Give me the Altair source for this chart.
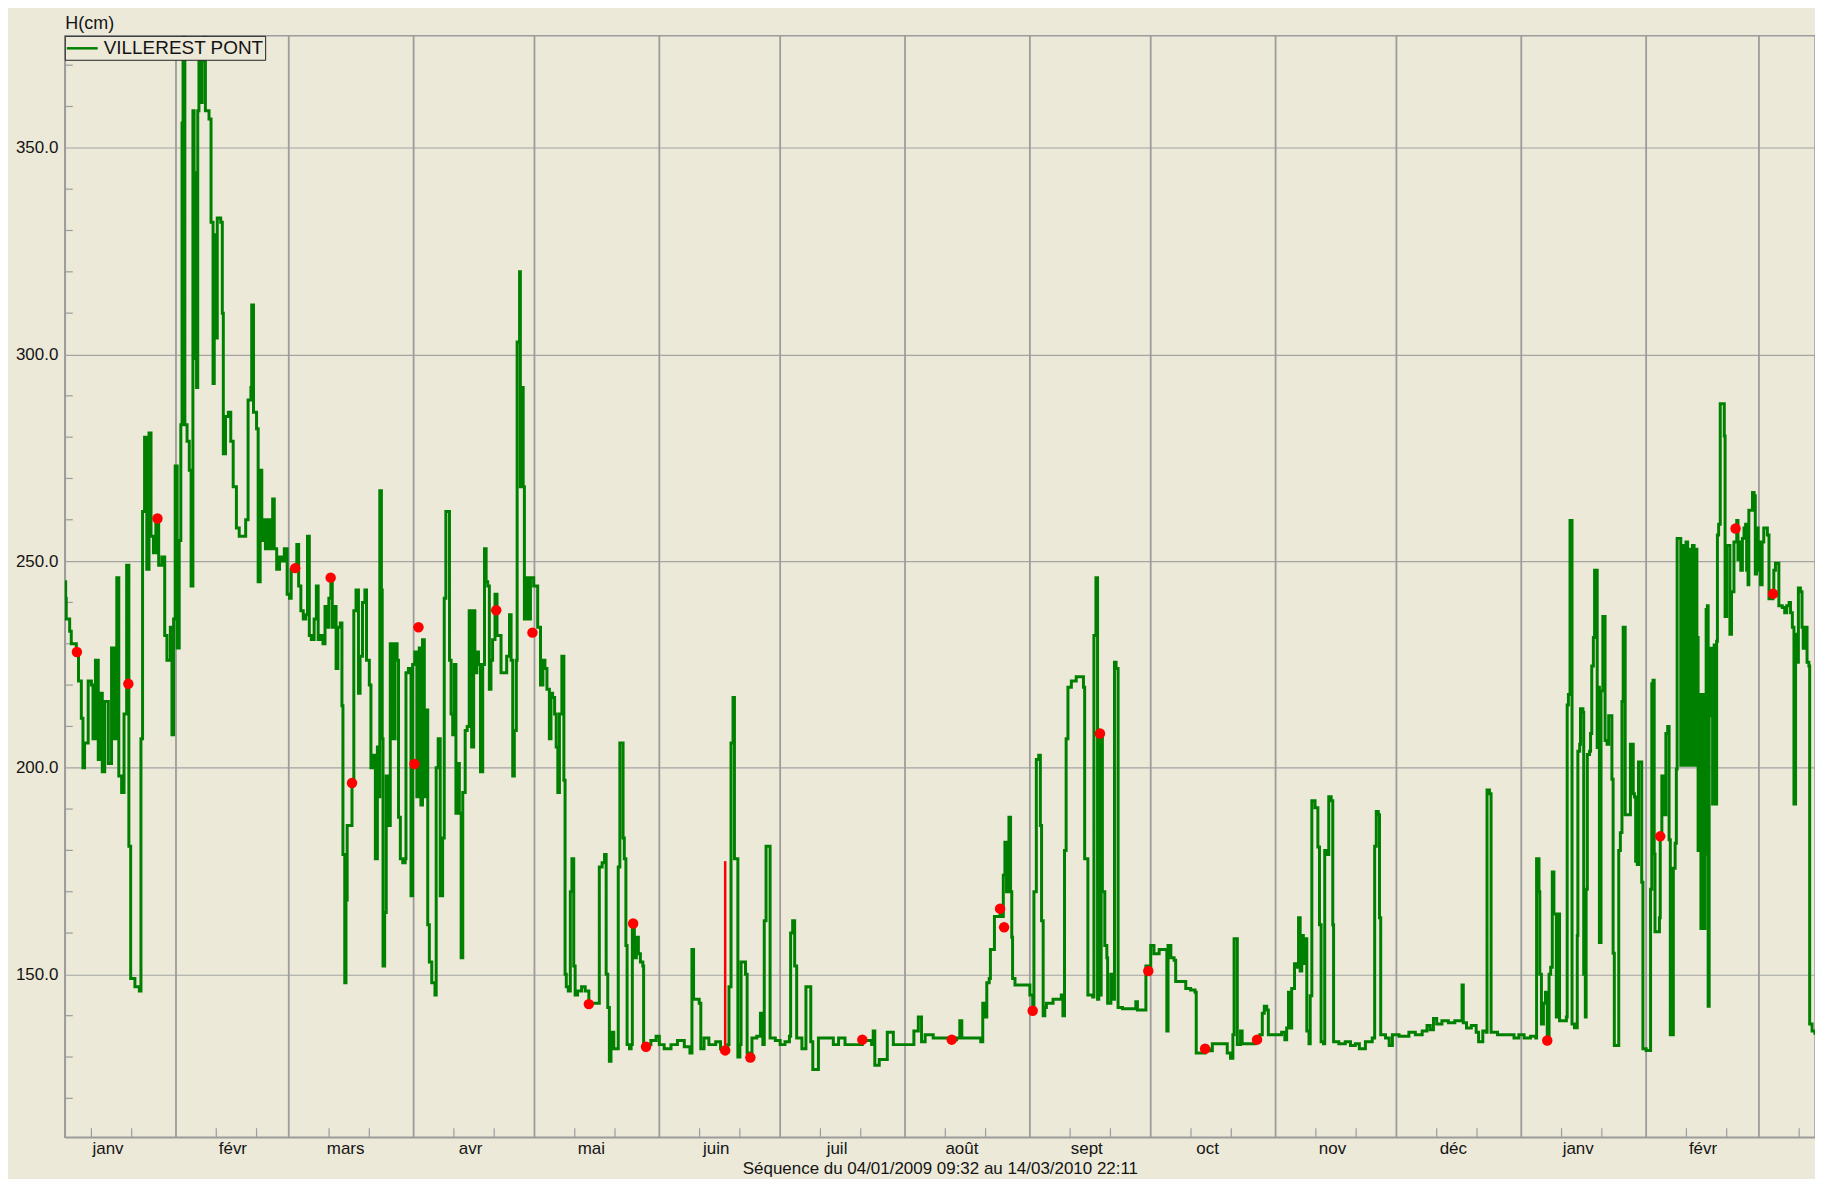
import altair as alt
import pandas as pd

# ---------------- data ----------------
# (days since 2009-01-01 00:00, level H in cm)
SEG_JAN_MAR09 = [(3.4,245),(3.6,241),(3.75,236),(4.6,233),(5.0,230),(6.25,228),(6.8,221),(7.5,212),(7.9,200),(8.3,206),(9.2,221),(10.0,220),(10.4,207),(11.0,226),(11.7,202),(12.1,218),(12.7,199),(13.3,216),(14.2,201),(15.0,229),(15.7,207),(16.3,246),(16.8,198),(17.5,194),(18.1,213),(18.75,249),(19.3,181),(19.75,149),(20.8,147),(21.9,146),(22.3,207),(22.7,262),(23.2,280),(23.75,248),(24.3,281),(24.8,256),(25.4,252),(26.0,259),(26.7,249),(27.5,251),(28.2,232),(28.75,226),(29.6,234),(30.0,208),(30.4,236),(30.8,273),(31.3,229),(31.8,255),(32.2,283),(32.5,356),(32.75,385),(33.2,283),(33.75,279),(34.3,272),(34.75,244),(35.2,359),(35.5,299),(35.8,344),(36.1,292),(36.4,359),(36.7,375),(37.1,361),(37.5,371),(38.0,385),(38.3,359),(39.2,357),(39.7,332),(40.2,293),(40.5,329),(40.8,304),(41.25,333),(42.1,332),(42.5,310),(42.75,276),(43.3,285),(44.0,286),(44.6,279),(45.2,268),(46.0,258),(46.7,256),(47.5,256),(48.3,260),(48.9,289),(49.6,292),(49.8,312),(50.25,286),(51.0,282),(51.4,245),(51.9,272),(52.3,255),(52.7,260),(53.2,253),(53.7,260),(54.3,253),(55.0,265),(55.4,253),(56.0,248),(56.7,251),(57.3,250),(57.9,253),(58.6,242),(59.2,241),(59.6,248),(60.6,248),(61.0,254),(61.45,244),(62.0,238),(62.6,236),(63.2,237),(63.65,256),(64.1,232),(64.6,231),(65.3,236),(65.85,244),(66.3,231),(66.9,232),(67.5,230),(68.0,239),(68.5,234),(68.95,241),(69.45,246),(69.8,234),(70.4,239),(70.75,224),(71.2,234),(71.8,235),(72.2,215),(72.45,179),(72.9,148),(73.2,168),(73.5,186),(74.7,196),(75.15,238),(75.7,243)]

SEG_MAR_MAY09 = [(76.3,218),(76.7,227),(77.3,240),(77.9,243),(78.3,226),(79.0,220),(79.4,200),(80.0,203),(80.5,178),(81.0,205),(81.35,193),(81.6,267),(82.0,243),(82.2,207),(82.4,152),(82.8,165),(83.2,198),(83.8,186),(84.2,230),(84.9,207),(85.4,230),(85.9,226),(86.25,188),(86.7,178),(87.3,177),(87.9,178),(88.1,223),(88.7,224),(89.35,169),(89.75,225),(90.3,228),(90.8,193),(91.4,229),(91.8,191),(92.2,231),(92.65,193),(93.1,214),(93.5,162),(93.9,153),(94.5,148),(95.3,145),(95.6,200),(96.1,207),(96.6,169),(97.2,183),(97.6,241),(98.0,262),(98.6,262),(98.9,226),(99.3,213),(99.7,208),(100.1,225),(100.5,189),(100.9,201),(101.35,189),(101.8,154),(102.2,194),(102.8,209),(103.3,210),(103.8,238),(104.4,205),(104.9,238),(105.2,223),(105.7,228),(106.1,225),(106.6,199),(107.15,225),(107.6,253),(108.0,245),(108.4,244),(108.8,219),(109.2,226),(109.6,231),(110.2,242),(110.7,232),(111.3,232),(111.7,223),(112.5,223),(113.1,227),(113.8,237),(114.2,226),(114.6,198),(115.0,209),(115.5,226),(115.7,303),(116.0,303),(116.3,320),(116.5,268),(116.85,292),(117.2,268),(117.5,236),(118.2,246),(118.5,236),(119.0,246),(119.8,244),(120.4,244),(120.8,234),(121.2,234),(121.5,220),(122.1,226),(122.6,224),(123.1,219),(123.7,207),(124.1,218),(124.5,217),(125.0,213),(125.4,205),(125.8,194),(126.2,213),(126.8,227),(127.3,197),(127.6,150),(127.9,147),(128.4,146),(128.9,170),(129.3,178),(129.75,152),(130.1,145),(130.7,146),(131.7,147),(132.6,146),(133.5,143),(134.5,143),(135.5,143),(136.1,176),(136.8,177),(137.4,179),(137.8,150),(138.2,142),(138.6,129),(139.0,136),(139.7,132),(140.5,132),(140.8,176),(141.2,206),(141.7,206),(142.0,183),(142.3,178),(142.7,157),(143.0,133),(143.6,132),(144.0,133),(144.3,162),(144.8,154),(145.3,159),(145.8,155),(146.3,153),(146.9,152),(147.1,133),(148.9,134),(150.2,135),(151.0,133)]

SEG_JUN_AUG09 = [(152.2,132),(153.9,133),(155.5,134),(157.2,132.5),(158.6,131),(159.1,156),(159.5,144),(160.9,143),(161.3,132),(162.1,134.6),(163.3,133),(165.0,133.7),(166.2,132),(167.35,131.6),(168.0,133),(168.3,147),(168.8,206),(169.3,217),(169.65,178),(170.1,178),(170.5,130),(171.0,133),(171.3,153),(171.8,153),(172.4,150),(172.8,131),(173.6,130),(174.0,134.6),(175.2,135),(176.1,140.6),(176.7,133),(177.05,163),(177.5,181),(178.1,181),(178.5,134.6),(179.8,134),(181.0,133),(182.2,133.7),(183.3,135),(183.6,160),(184.1,163),(184.6,152),(185.1,134.6),(186.4,132),(187.4,147),(188.3,147),(188.6,133.7),(189.1,127),(190.1,127),(190.5,134.6),(192.6,134.6),(194.2,133),(195.5,134.6),(197.1,133),(201.4,134),(203.7,133),(204.1,136.3),(204.5,128),(205.6,129.4),(207.3,129.4),(207.6,136),(208.3,136),(209.1,133),(210.3,133),(211.6,133),(213.2,133),(214.2,136.3),(215.3,139.7),(216.1,133.7),(217.0,135.4),(219.0,134.6),(223.6,134.2)]

SEG_AUG_OCT09 = [(224.8,134.6),(225.6,138.8),(226.1,134.6),(228.1,134.6),(230.8,133.7),(231.3,143),(231.8,139.7),(232.3,148),(232.9,149),(233.2,156),(233.9,156),(234.2,164),(235.6,166),(236.0,164),(236.4,174),(236.8,182),(237.2,170),(237.8,188),(238.2,170),(238.5,159),(238.7,149),(239.3,147.4),(242.6,147.4),(243.0,145),(243.7,141),(244.0,170),(244.6,202),(245.2,203),(245.6,186),(245.9,163),(246.3,140),(246.7,142),(247.1,143),(248.75,144),(250.8,145),(251.2,140),(251.6,180),(252.0,207),(252.45,219.5),(253.3,221),(254.5,222),(255.7,222),(256.3,219.5),(256.6,178),(257.4,145),(258.6,144.5),(258.9,232),(259.4,246),(259.8,144),(260.1,209),(260.4,145),(260.7,208),(261.0,170),(261.2,170),(261.6,157),(262.1,154),(262.3,143),(263.1,150),(263.5,144),(264.0,225.5),(264.4,224),(264.9,142),(266.0,141.7),(267.65,141.7),(269.3,143.4),(269.7,141.4),(271.3,141.4),(271.8,152),(272.4,151),(273.0,157),(273.8,155),(275.1,156),(276.7,156),(277.0,136.3),(277.3,157),(278.0,154),(278.8,153.4),(279.2,148.3),(280.0,148.3),(281.7,146.6),(282.9,146.2),(284.0,145.7),(284.3,131),(286.5,132),(287.5,131.5),(288.3,133.2),(290.8,133.2),(292.0,131),(292.8,129.7),(293.4,135.4),(293.7,158.6),(294.2,158.6),(294.5,133),(295.3,136.3),(295.7,133.2),(297.4,133.2)]

SEG_NOV09_JAN10 = [(298.9,134.6),(300.1,135.4),(300.7,140.6),(301.2,142.3),(301.8,141.4),(302.2,135.4),(303.8,135.4),(305.5,136),(306.3,134.2),(306.75,137),(307.2,145.7),(307.6,137),(308.0,146.6),(308.7,152.6),(309.25,151.7),(309.7,163.7),(310.1,150.8),(310.5,159.4),(310.9,152.6),(311.3,158.6),(311.75,136.3),(312.3,133.2),(312.6,144.8),(313.0,192),(313.8,190.3),(314.5,180.8),(314.9,162),(315.3,133.7),(315.9,133.2),(316.2,180),(316.75,179),(317.2,193),(317.8,192),(318.2,162),(318.4,133.7),(319.7,133.2),(321.3,133.7),(322.6,132.8),(323.8,133.2),(324.8,132),(326.3,133.7),(328.0,134.6),(328.6,181),(329.0,189.4),(329.5,188.6),(329.8,163.7),(330.1,135.4),(331.3,134.6),(332.2,132.8),(333.0,135.4),(334.65,135),(337.1,136),(338.7,135.4),(340.4,136.3),(341.6,137.6),(342.4,136.6),(343.2,139.3),(344.0,138),(345.3,138.8),(346.9,138.3),(348.5,138.8),(350.0,138.8),(350.3,147.4),(350.6,138.3),(351.4,137),(352.6,137.6),(353.8,136),(354.4,133.7),(355.45,136.3),(356.3,136),(356.5,194.6),(357.1,193.7),(357.5,136),(359.1,135.4),(361.6,135.4),(363.2,134.6),(364.4,135.4),(365.7,134.6),(367.3,135),(368.6,134.6),(368.8,178),(369.4,170),(369.6,150),(370.0,138),(370.5,143),(371.0,145.7),(371.45,134),(371.9,150),(372.3,151.7),(372.7,174.8),(373.1,164.6)]

SEG_JAN_MAR10 = [(373.7,139.7),(374.1,164.6),(374.5,138.8),(374.9,138.8),(376.2,139.7),(376.4,215.2),(376.7,217.7),(377.1,259.8),(377.4,259.8),(377.6,138),(378.2,137.1),(378.6,137.1),(378.9,159.4),(379.05,204),(379.5,205.7),(379.7,214.3),(380.3,213.4),(380.5,150),(380.9,139.7),(381.1,170.6),(381.4,203.2),(381.95,204),(382.2,208.3),(382.5,224.6),(382.9,231.5),(383.2,247.8),(383.6,247.8),(383.85,204.9),(384.2,219.5),(384.4,157.7),(384.8,218.6),(385.25,236.6),(385.7,236.6),(385.8,206.6),(386.3,205.7),(386.7,212.6),(387.2,212.6),(387.5,197.2),(387.8,155.1),(388.1,132.8),(389.0,132.8),(389.2,180),(389.6,184.3),(390.0,216),(390.3,234),(390.6,234),(390.8,188.6),(391.9,188.6),(392.1,205.7),(392.4,205.7),(392.8,193.7),(393.1,192.9),(393.4,177.4),(393.8,176.6),(394.1,201.4),(394.6,201.4),(394.9,172.3),(395.2,132),(396.0,131.6),(396.8,131.6),(397.1,170.6),(397.4,220.3),(397.7,221.2),(398.0,179.1),(398.2,160.3),(398.9,160.3),(399.3,163.7),(399.5,183.4),(399.9,198),(400.2,198),(400.5,188.6),(400.9,208.3),(401.35,210),(401.7,182.6),(402.0,135.4),(402.5,135.4),(402.75,175.7),(403.2,181.7),(403.5,199.7),(403.7,255.5),(404.2,255.5),(404.6,200.6),(405.1,253.8),(405.5,200.6),(405.9,254.6),(406.3,200.6),(406.7,252.9),(407.1,200.6),(407.5,253.8),(407.9,200.6),(408.4,252.9),(408.6,231.5),(408.9,180),(409.3,217.7),(409.6,161.1),(409.9,217.7),(410.25,161.1),(410.6,179.1),(410.9,238.3),(411.2,239.2),(411.4,142.3),(411.65,212.6),(412.1,228.9),(412.5,191.2),(412.9,229.7),(413.2,191.2),(413.5,230.6),(413.7,256.3),(414.0,258.9),(414.4,288.1),(414.9,288.1),(415.4,280.3),(415.6,236.6),(416.0,253.8),(416.6,253.8),(416.8,232.3),(417.2,242.6),(417.5,242.6),(417.8,254.6),(418.5,259.8),(418.8,250.3),(419.1,254.6),(419.5,247.8),(419.9,255.5),(420.3,258),(420.7,258.9),(420.95,247.8),(421.3,244.3),(421.5,262.3),(421.9,262.3),(422.4,266.6),(422.8,265.8),(423.1,246.9),(423.4,258),(423.8,247.8),(424.1,254.6),(424.4,244.3),(424.8,254.6),(425.2,258),(425.65,258),(426.1,256.3),(426.5,240.9),(427.5,242.1),(427.7,247.8),(428.1,249.5),(428.7,249.5),(428.95,239.2),(429.8,238.8),(430.4,237.5),(430.9,239.2),(431.5,240),(431.85,237.5),(432.3,234),(432.7,191.2),(433.1,232.3),(433.5,225.5),(433.8,243.5),(434.3,242.6),(434.7,234),(435.0,228.9),(435.3,234),(435.7,234),(435.95,225.5),(436.4,224.6),(436.6,138),(437.2,136.3),(437.9,135.4)]

# red marks (manual readings)
RED_POINTS = [(6.4,228),(19.17,220.3),(26.4,260.3),(60.6,248.3),(69.4,246),(74.7,196.3),(90.2,200.9),(91.2,234),(110.5,238.1),(119.5,232.7),(133.5,142.8),(144.5,162.3),(147.7,132.5),(167.35,131.6),(173.6,129.9),(201.4,134.2),(223.6,134.2),(235.6,165.9),(236.6,161.4),(243.7,141.2),(260.4,208.3),(272.4,150.8),(286.5,132),(299.4,134.2),(371.45,134),(399.5,183.4),(418.2,257.9),(427.5,242.1)]
RED_SPIKE = [(167.35,131.6,177.4)]

SERIES_NAME = "VILLEREST PONT"
Y_LABEL_VALUES = [150, 200, 250, 300, 350]
Y_MINOR = [120,130,140,160,170,180,190,210,220,230,240,260,270,280,290,310,320,330,340,360,370]
MONTH_NAMES = ["janv", "févr", "mars", "avr", "mai", "juin", "juil", "août", "sept", "oct", "nov", "déc"]
AXIS_MONTHS = [(2009, m) for m in range(1, 13)] + [(2010, 1), (2010, 2), (2010, 3)]
CAPTION = "Séquence du 04/01/2009 09:32 au 14/03/2010 22:11"

# ---------------- frames ----------------
BASE = pd.Timestamp("2009-01-01")

def to_time(days):
    return BASE + pd.to_timedelta(pd.Series(days, dtype=float), unit="D")

rows = []
for seg in (SEG_JAN_MAR09, SEG_MAR_MAY09, SEG_JUN_AUG09, SEG_AUG_OCT09, SEG_NOV09_JAN10, SEG_JAN_MAR10):
    rows.extend(seg)
df = pd.DataFrame(rows, columns=["day", "h"])
df["t"] = to_time(df["day"])
df["serie"] = SERIES_NAME

red = pd.DataFrame(RED_POINTS, columns=["day", "h"])
red["t"] = to_time(red["day"])

spike = pd.DataFrame(RED_SPIKE, columns=["day", "lo", "hi"])
spike["t"] = to_time(spike["day"])

month_starts = pd.DataFrame({"t": [pd.Timestamp(y, m, 1) for (y, m) in AXIS_MONTHS[1:]]})
minor_x = pd.DataFrame({"t": [pd.Timestamp(y, m, d) for (y, m) in AXIS_MONTHS for d in (11, 21)
                              if pd.Timestamp(y, m, d) < pd.Timestamp(2010, 3, 14)]})
minor_y = pd.DataFrame({"v": Y_MINOR})

label_dates = [alt.DateTime(year=y, month=m, date=15) for (y, m) in AXIS_MONTHS[:-1]]
label_expr = " : ".join("month(datum.value) == %d ? '%s'" % (i, n) for i, n in enumerate(MONTH_NAMES)) + " : ''"

X_DOMAIN = [alt.DateTime(year=2009, month=1, date=4, hours=9, minutes=32),
            alt.DateTime(year=2010, month=3, date=14, hours=22, minutes=11)]
Y_DOMAIN = [110.6, 377.1]

W, H = 1756, 1105
GRID = "#9c9c9c"
TXT = "#141414"
FONT = "Liberation Sans"

xs = alt.Scale(domain=X_DOMAIN)
ys = alt.Scale(domain=Y_DOMAIN, nice=False, zero=False)

x_axis = alt.Axis(values=label_dates, labelExpr=label_expr, grid=False, ticks=False, tickSize=0,
                  labelPadding=3, labelFontSize=17, labelColor=TXT, labelFont=FONT,
                  labelOverlap=False, labelFlush=False,
                  domainColor=GRID, domainWidth=1.5,
                  title=CAPTION, titleFontSize=17, titleFontWeight="normal", titleColor=TXT,
                  titleFont=FONT, titleBaseline="alphabetic", titleY=36)
y_axis = alt.Axis(values=Y_LABEL_VALUES, format=".1f", grid=True, gridColor="#a4a4a4", gridWidth=1.2,
                  ticks=False, tickSize=0, labelPadding=7, labelFontSize=17, labelColor=TXT, labelFont=FONT,
                  domainColor=GRID, domainWidth=1.5,
                  title="H(cm)", titleAngle=0, titleAlign="left", titleBaseline="alphabetic",
                  titleX=0, titleY=-7, titleFontSize=18, titleFontWeight="normal", titleColor=TXT,
                  titleFont=FONT)

vgrid = alt.Chart(month_starts).mark_rule(color=GRID, strokeWidth=1.8).encode(
    x=alt.X("t:T", scale=xs, axis=x_axis))

xminor = alt.Chart(minor_x).mark_rule(color=GRID, strokeWidth=1.2).encode(
    x=alt.X("t:T", scale=xs, axis=x_axis), y=alt.value(H - 9), y2=alt.value(H))

yminor = alt.Chart(minor_y).mark_rule(color=GRID, strokeWidth=1.2).encode(
    y=alt.Y("v:Q", scale=ys, axis=y_axis), x=alt.value(0), x2=alt.value(8))

line = alt.Chart(df).mark_line(interpolate="step-after", strokeWidth=3, clip=True).encode(
    x=alt.X("t:T", scale=xs, axis=x_axis),
    y=alt.Y("h:Q", scale=ys, axis=y_axis),
    color=alt.Color("serie:N", scale=alt.Scale(domain=[SERIES_NAME], range=["#008000"]),
                    legend=alt.Legend(title=None, orient="top-left", offset=0, padding=1,
                                      fillColor="#ECE9D8", strokeColor="#222222",
                                      symbolType="M-1.55,0H1.55", symbolSize=400, symbolStrokeWidth=2.5,
                                      symbolOffset=5,
                                      labelFontSize=19, labelColor=TXT, labelFont=FONT,
                                      labelOffset=10, labelLimit=400, zindex=1)),
)

spike_rule = alt.Chart(spike).mark_rule(color="#ff0000", strokeWidth=2.5).encode(
    x=alt.X("t:T", scale=xs, axis=x_axis),
    y=alt.Y("lo:Q", scale=ys, axis=y_axis), y2="hi:Q")

points = alt.Chart(red).mark_circle(size=110, color="#ff0000", opacity=1).encode(
    x=alt.X("t:T", scale=xs, axis=x_axis),
    y=alt.Y("h:Q", scale=ys, axis=y_axis))

chart = alt.layer(vgrid, xminor, yminor, line, spike_rule, points).properties(
    width=W, height=H,
    autosize=alt.AutoSizeParams(type="none"),
    padding={"left": 57, "top": 26, "right": 0, "bottom": 40},
    background="#ECE9D8",
).configure(font=FONT).configure_view(stroke=GRID, strokeWidth=1.5)

chart.save("out.html", embed_options={"renderer": "svg", "actions": False})
